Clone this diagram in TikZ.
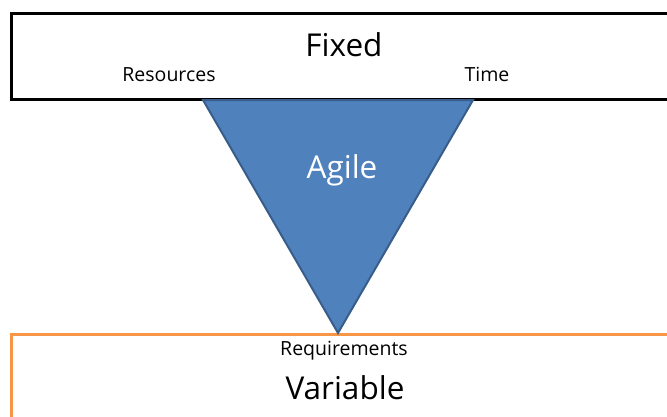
\documentclass[tikz,border=0pt]{standalone}
\usepackage{fontspec}
\setmainfont{Open Sans}
\definecolor{agileblue}{HTML}{4F81BD}
\definecolor{agileedge}{HTML}{385D8A}
\definecolor{varorange}{HTML}{F79646}
\begin{document}
\begin{tikzpicture}[x=1pt,y=-1pt,
  lbl/.style={inner sep=0pt, anchor=center},
  small/.style={lbl, font=\fontsize{19.5}{22}\selectfont},
  big/.style={lbl, font=\fontsize{31.5}{36}\selectfont}]
\useasboundingbox (0,0) rectangle (667,416);
\clip (0,0) rectangle (667,416);
% top fixed box
\draw[line width=3pt, black, fill=white] (11.5,13) rectangle (720,99) ;
% bottom variable box
\draw[line width=3pt, varorange, fill=white] (11,334) rectangle (720,440);
% triangle
\coordinate (tl) at (203,100);
\coordinate (tr) at (473,100);
\coordinate (apex) at (338,333);
\draw[line width=2pt, agileedge, fill=agileblue, line join=miter] (tl) -- (tr) -- (apex) -- cycle;
% texts
\node[big] (fixed) at (344,45) {Fixed};
\node[small] (res) at (169,75) {Resources};
\node[small] (time) at (487,74) {Time};
\node[big, text=white] (agile) at (342,170) {Agile};
\node[small] (req) at (344,351) {Requirements};
\node[big] (var) at (345,388) {Variable};
\end{tikzpicture}
\end{document}
